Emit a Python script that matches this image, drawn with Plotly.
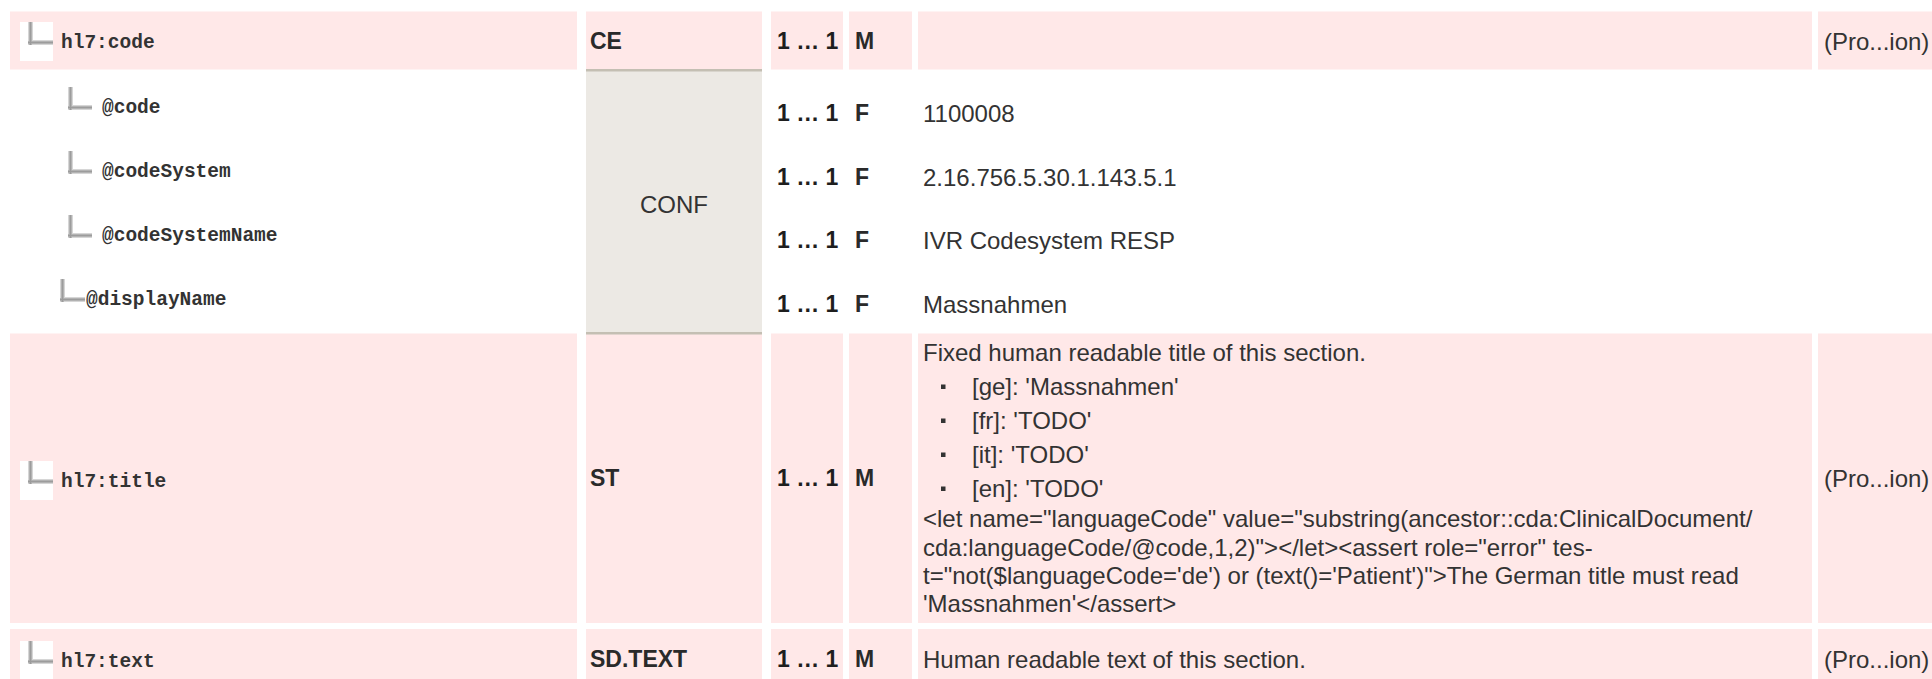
import html
import plotly.graph_objects as go

# ------------------------------------------------------------------ data
element_names = ["hl7:code", "@code", "@codeSystem", "@codeSystemName",
                 "@displayName", "hl7:title", "hl7:text"]
tree_levels = [0, 1, 1, 1, 1, 0, 0]
highlighted = [True, False, False, False, False, True, True]
datatypes = ["CE", "CONF", "CONF", "CONF", "CONF", "ST", "SD.TEXT"]
cardinalities = ["1 … 1"] * 7
conformances = ["M", "F", "F", "F", "F", "M", "M"]
values = ["", "1100008", "2.16.756.5.30.1.143.5.1", "IVR Codesystem RESP",
          "Massnahmen", None, "Human readable text of this section."]
title_intro = "Fixed human readable title of this section."
title_languages = ["ge", "fr", "it", "en"]
title_texts = ["'Massnahmen'", "'TODO'", "'TODO'", "'TODO'"]
title_schematron = [
    '<let name="languageCode" value="substring(ancestor::cda:ClinicalDocument/',
    'cda:languageCode/@code,1,2)"></let><assert role="error" tes-',
    "t=\"not($languageCode='de') or (text()='Patient')\">The German title must read",
    "'Massnahmen'</assert>",
]
sources = ["(Pro...ion)", "", "", "", "", "(Pro...ion)", "(Pro...ion)"]

# ------------------------------------------------------------------ geometry / style
W, H = 1932, 679
PINK = "#FFE8E8"
GREY = "#ECE9E4"
GREY_LINE = "#C4BFB3"
TXT = "#333333"
SANS = "Liberation Sans, Arial, sans-serif"
MONO = "Liberation Mono, Courier New, monospace"
FS = 24
FS_BOLD = 23
FS_MONO = 19.5

col_edges = [(10, 577), (586, 762), (771, 843), (849, 912), (918, 1812), (1818, 1940)]
row_bounds = [(11.5, 69.5), (70, 134), (134, 198), (198, 262), (262, 333),
              (333.5, 623), (629, 679)]
text_y = [41, 113, 177, 240, 304, 478, 659]
tree_y = [43, 108, 172, 236, 300, 482, 662]
tree_x = {0: 59, 1: 100}
l_x = {0: 28, 1: 68}
desc_y = [352, 386, 420, 454, 488, 518, 547, 575, 603]

shapes = []
annotations = []


def rect(x0, y0, x1, y1, color, layer="below"):
    shapes.append(dict(type="rect", xref="x", yref="y", x0=x0, x1=x1, y0=y0, y1=y1,
                       fillcolor=color, line=dict(width=0), layer=layer))


def text(x, y, s, size=FS, bold=False, family=SANS, color=TXT, anchor="left"):
    s = html.escape(s, quote=False)
    if bold:
        s = "<b>" + s + "</b>"
    annotations.append(dict(x=x, y=y, xref="x", yref="y", text=s, showarrow=False,
                            xanchor=anchor, yanchor="middle",
                            font=dict(family=family, size=size, color=color)))


def tree_icon(x, ybottom, length, box):
    if box:
        rect(x - 8, ybottom - 23, x + 25, ybottom + 16, "#FFFFFF")
    # gradient-ish L shape
    for pad, col in [(0, "#D6D6D6"), (1, "#B8B8B8"), (1.8, "#9C9C9C")]:
        rect(x + pad, ybottom - 23, x + 5 - pad, ybottom, col)
        rect(x, ybottom - 5 + pad, x + length, ybottom - pad, col)


# cell backgrounds
for r, (y0, y1) in enumerate(row_bounds):
    if highlighted[r]:
        for (x0, x1) in col_edges:
            rect(x0, y0, x1, y1, PINK)

# merged datatype cell (CONF)
conf_rows = [r for r in range(len(datatypes)) if not highlighted[r]]
cy0 = row_bounds[conf_rows[0]][0]
cy1 = row_bounds[conf_rows[-1]][1]
rect(col_edges[1][0], cy0, col_edges[1][1], cy1, GREY)
rect(col_edges[1][0], cy0 - 1, col_edges[1][1], cy0 + 1.5, GREY_LINE)
rect(col_edges[1][0], cy1 - 1, col_edges[1][1], cy1 + 1.5, GREY_LINE)
text((col_edges[1][0] + col_edges[1][1]) / 2, (cy0 + cy1) / 2 + 3, datatypes[conf_rows[0]],
     anchor="center")

for r in range(len(element_names)):
    lvl = tree_levels[r]
    name = element_names[r]
    if r == 4:  # @displayName sits slightly less indented, text flush to icon
        tree_icon(60, tree_y[r] + 2, 25, False)
        text(84, tree_y[r], name, size=FS_MONO, bold=True, family=MONO)
    else:
        tree_icon(l_x[lvl], tree_y[r] + 2, 25 if lvl == 0 else 24, highlighted[r])
        text(tree_x[lvl], tree_y[r], name, size=FS_MONO, bold=True, family=MONO)
    if highlighted[r]:
        text(col_edges[1][0] + 2, text_y[r], datatypes[r], size=FS_BOLD, bold=True,
             color="#2a2a2a")
    text(775, text_y[r], cardinalities[r], size=FS_BOLD, bold=True, color="#1e1e1e")
    text(853, text_y[r], conformances[r], size=FS_BOLD, bold=True, color="#2a2a2a")
    if values[r]:
        text(921, text_y[r], values[r])
    if sources[r]:
        text(1822, text_y[r], sources[r])

# multi-line description of hl7:title
text(921, desc_y[0], title_intro)
for i, (lang, val) in enumerate(zip(title_languages, title_texts)):
    yy = desc_y[1 + i]
    rect(941, yy - 1.5, 945.5, yy + 3, "#333333", layer="above")
    text(970, yy, f"[{lang}]: {val}")
for i, line in enumerate(title_schematron):
    text(921, desc_y[5 + i], line)

fig = go.Figure()
fig.add_trace(go.Scatter(x=[0, W], y=[0, H], mode="markers",
                         marker=dict(opacity=0), hoverinfo="skip", showlegend=False))
fig.update_layout(
    width=W, height=H, margin=dict(l=0, r=0, t=0, b=0),
    paper_bgcolor="#FFFFFF", plot_bgcolor="#FFFFFF",
    xaxis=dict(range=[0, W], visible=False, fixedrange=True),
    yaxis=dict(range=[H, 0], visible=False, fixedrange=True),
    shapes=shapes, annotations=annotations, showlegend=False, hovermode=False,
)
fig.write_html("out.html", config=dict(displayModeBar=False, staticPlot=True),
               post_script="document.body.style.margin='0';document.body.style.overflow='hidden';")
